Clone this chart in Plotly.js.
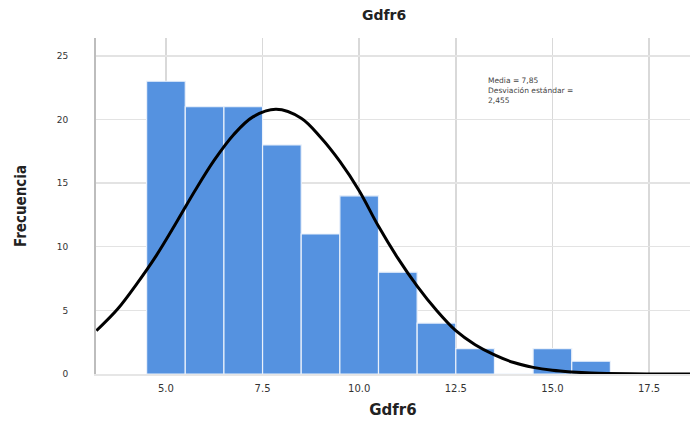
<!DOCTYPE html>
<html>
<head>
<meta charset="utf-8">
<script src="https://cdn.plot.ly/plotly-3.0.1.min.js"></script>
<style>html,body{margin:0;padding:0;background:#fff;}#chart{width:692px;height:426px;}</style>
</head>
<body>
<div id="chart"></div>
<script>
// Histogram bins (centres, width 1) and frequencies
const binCenters = [5, 6, 7, 8, 9, 10, 11, 12, 13, 14, 15, 16];
const frequencies = [23, 21, 21, 18, 11, 14, 8, 4, 2, 0, 2, 1];

// Normal curve
const curveX = [3.2, 3.75, 4.25, 4.75, 5.25, 5.75, 6.25, 6.75, 7.25, 7.85, 8.5, 9.0, 9.5, 10.0, 10.5, 11.0, 11.5, 12.0, 12.5, 13.0, 13.5, 14.0, 14.5, 15.0, 15.5, 16.0, 17.0, 18.6];
const curveY = [3.4, 5.1, 7.1, 9.3, 11.8, 14.4, 16.8, 18.8, 20.2, 20.8, 20.1, 18.6, 16.7, 14.4, 11.6, 9.1, 6.9, 5.0, 3.4, 2.3, 1.5, 0.9, 0.52, 0.29, 0.16, 0.08, 0.02, 0.0];

const xTicks = [5, 7.5, 10, 12.5, 15, 17.5];
const xTickLabels = ["5.0", "7.5", "10.0", "12.5", "15.0", "17.5"];
const yTicks = [0, 5, 10, 15, 20, 25];

const titleText = "Gdfr6";
const statsText = "Media = 7,85<br>Desviación estándar =<br>2,455";

const traces = [
  {
    type: "bar",
    x: binCenters,
    y: frequencies,
    width: 1,
    marker: {color: "#5592e0", line: {color: "#eaf1fb", width: 1.2}},
    hoverinfo: "x+y"
  },
  {
    type: "scatter",
    mode: "lines",
    x: curveX,
    y: curveY,
    line: {color: "#000000", width: 3, shape: "spline", smoothing: 1},
    hoverinfo: "skip"
  }
];

const layout = {
  width: 692,
  height: 426,
  margin: {l: 96, r: 2, t: 38, b: 52},
  paper_bgcolor: "#ffffff",
  plot_bgcolor: "#ffffff",
  showlegend: false,
  bargap: 0,
  title: {
    text: titleText,
    x: 0.555, xanchor: "center",
    y: 0.965, yanchor: "middle",
    font: {family: "DejaVu Sans", size: 14, color: "#222", weight: "bold"}
  },
  xaxis: {
    range: [3.19, 18.56],
    tickvals: xTicks,
    ticktext: xTickLabels,
    showgrid: true,
    gridcolor: "#d9d9d9",
    gridwidth: 1.5,
    zeroline: false,
    showline: true,
    linecolor: "#e6e6e6",
    linewidth: 1.5,
    ticks: "",
    ticklabelstandoff: 4,
    tickfont: {family: "DejaVu Sans", size: 10, color: "#333"},
    title: {text: titleText, standoff: 12, font: {family: "DejaVu Sans", size: 15, color: "#222", weight: "bold"}}
  },
  yaxis: {
    range: [0, 26.4],
    tickvals: yTicks,
    showgrid: true,
    gridcolor: "#e3e3e3",
    gridwidth: 1.5,
    zeroline: false,
    showline: true,
    linecolor: "#bdbdbd",
    linewidth: 2,
    ticks: "",
    ticklabelstandoff: 24,
    tickfont: {family: "DejaVu Sans", size: 9, color: "#333"},
    title: {text: "Frecuencia", standoff: 26, font: {family: "DejaVu Sans Condensed", size: 15, color: "#222", weight: "bold"}}
  },
  annotations: [
    {
      x: 13.27, y: 23.6, xref: "x", yref: "y",
      xanchor: "left", yanchor: "top",
      text: statsText, showarrow: false, align: "left",
      font: {family: "DejaVu Sans", size: 7.5, color: "#444"}
    }
  ]
};

Plotly.newPlot("chart", traces, layout, {displayModeBar: false, staticPlot: true});
</script>
</body>
</html>
